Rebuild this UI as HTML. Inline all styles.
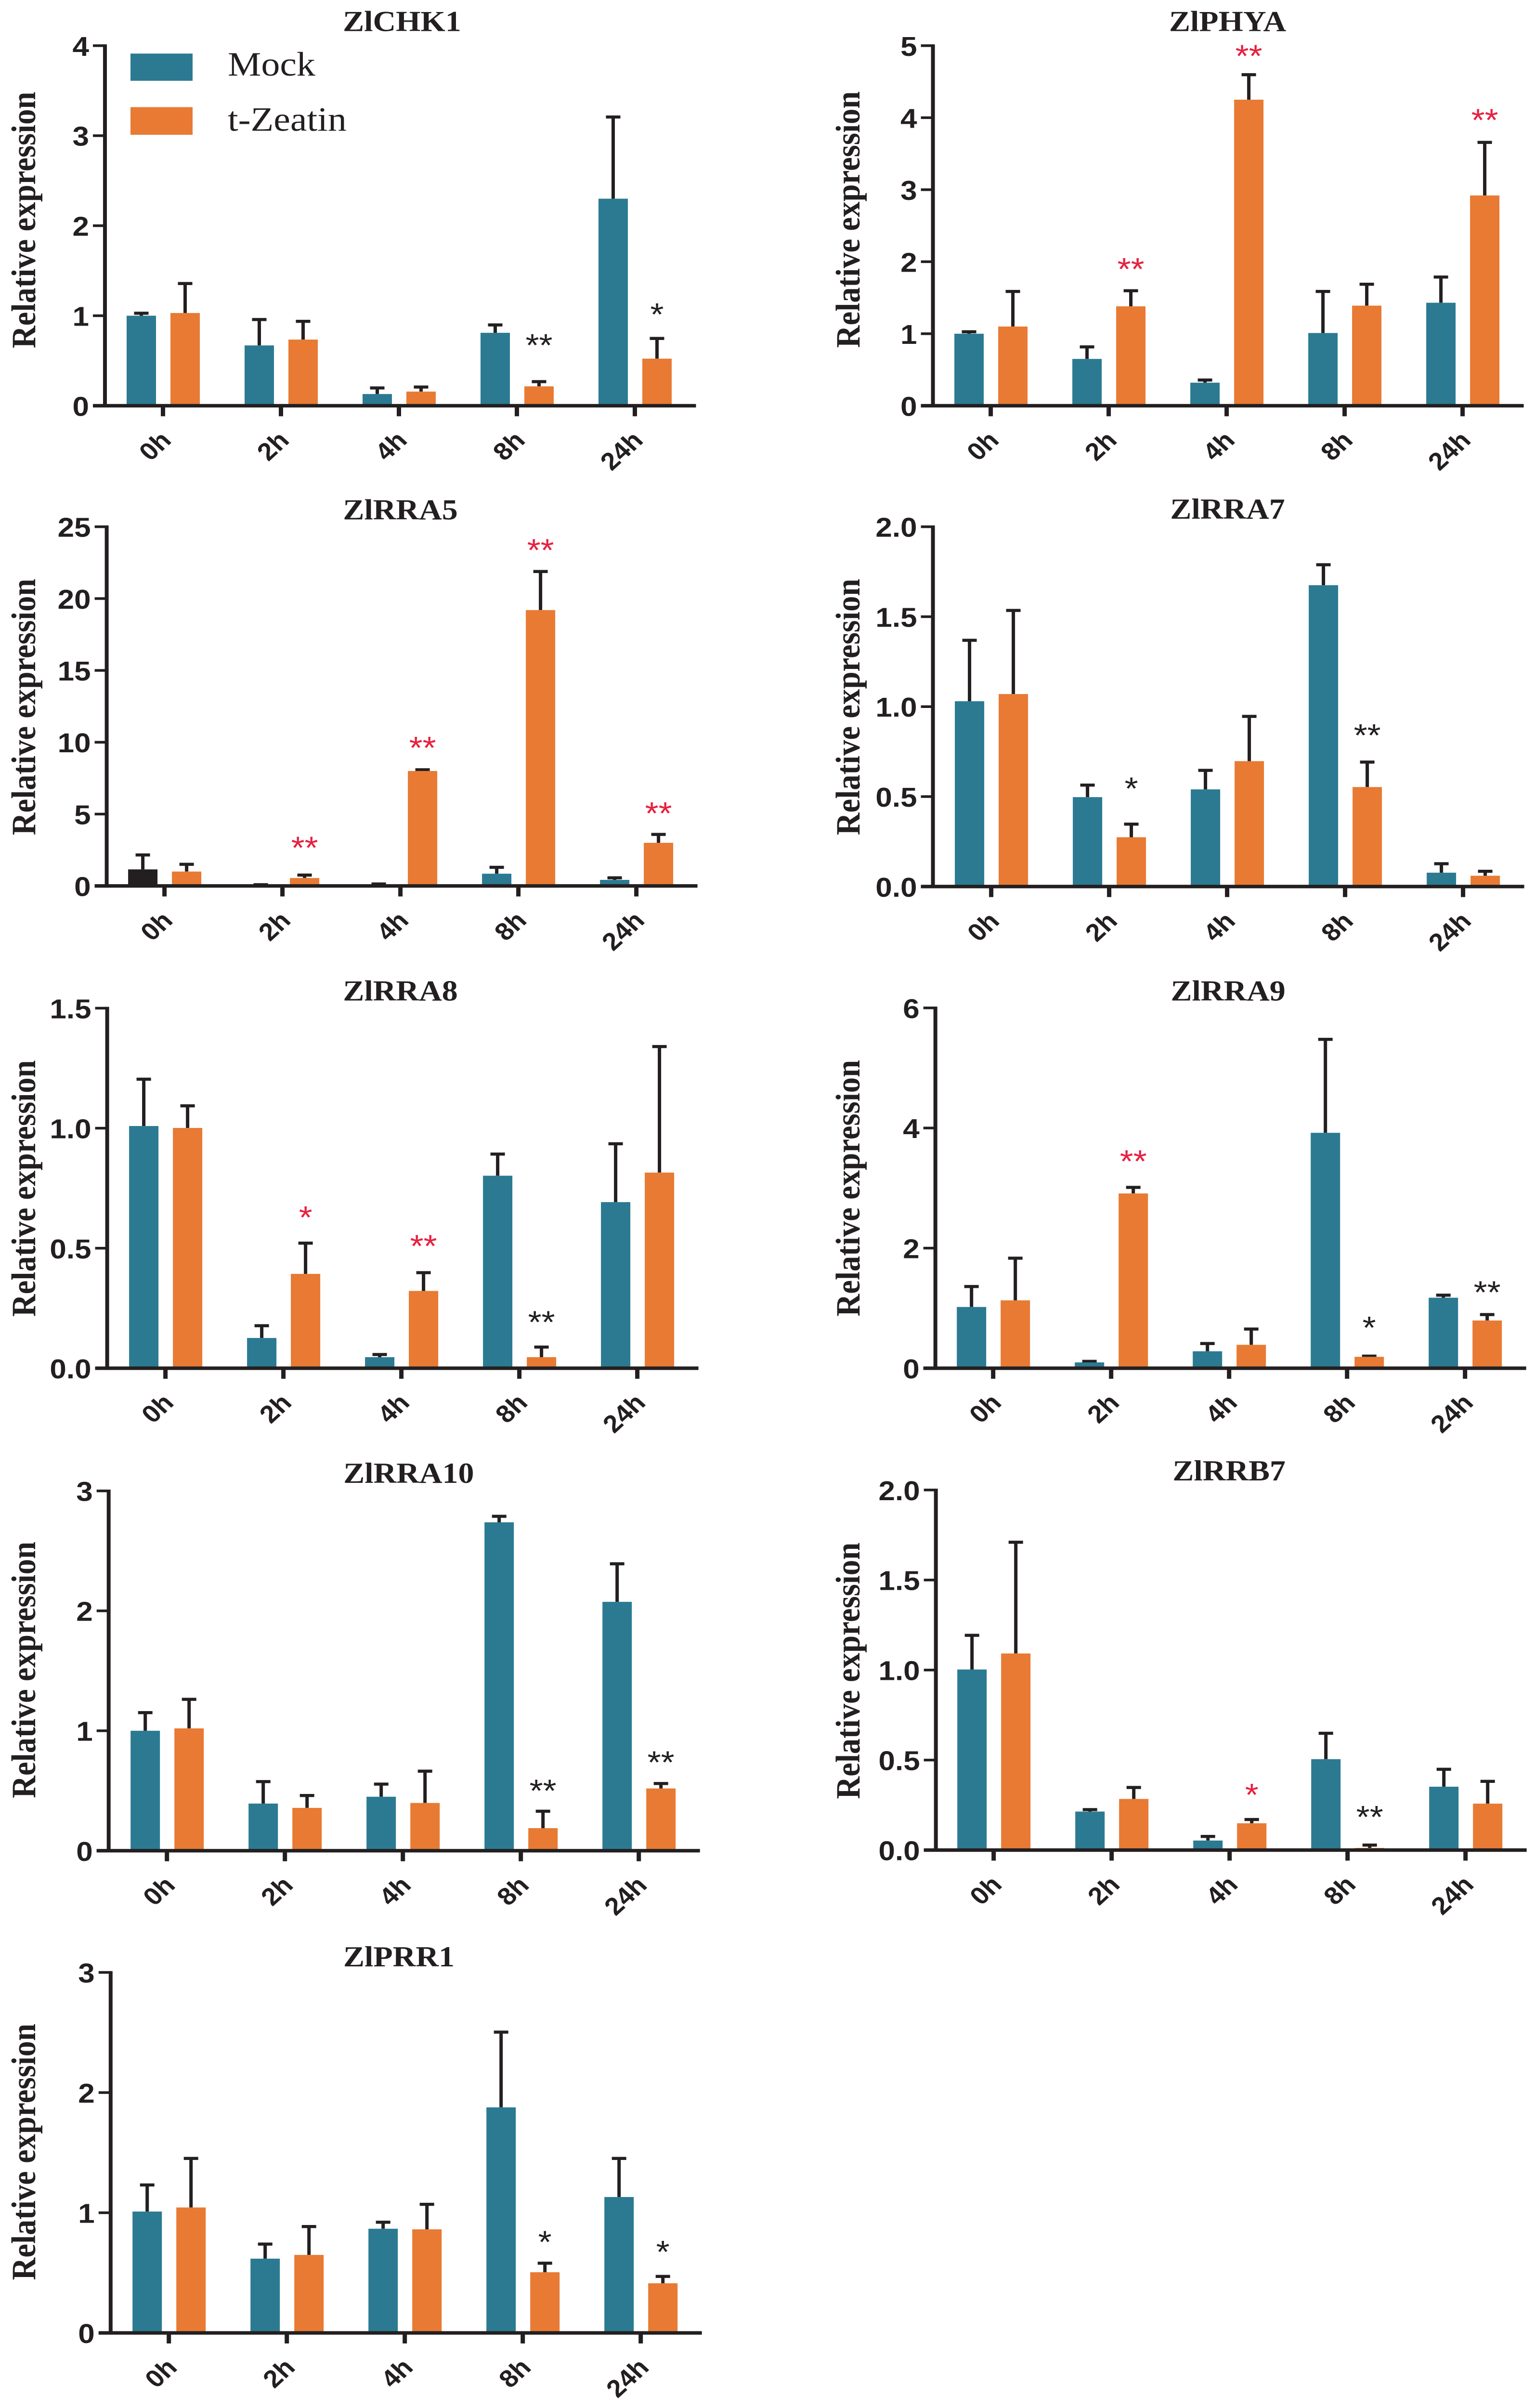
<!DOCTYPE html>
<html lang="en">
<head>
<meta charset="utf-8">
<title>Relative expression panels</title>
<style>
html,body{margin:0;padding:0;background:#fff;width:100%;height:100%;overflow:hidden;}
svg#figure{display:block;width:100vw;height:100vh;}
.serif{font-family:"Liberation Serif",serif;}
.sans{font-family:"Liberation Sans",sans-serif;}
</style>
</head>
<body>
<svg id="figure" xmlns="http://www.w3.org/2000/svg" viewBox="0 0 3188 5484" preserveAspectRatio="none">
  <rect width="3188" height="5484" fill="#ffffff"/>
  <g>
    <rect x="271" y="122" width="129" height="62" fill="#2b7a92"/>
    <text class="serif" x="473" y="172" font-size="78" fill="#231f20">Mock</text>
    <rect x="271" y="244" width="129" height="63" fill="#e87a33"/>
    <text class="serif" x="473" y="298" font-size="78" fill="#231f20">t-Zeatin</text>
  </g>
</svg>
<script>
const categories = ["0h", "2h", "4h", "8h", "24h"];

const chk1Ticks = ["0", "1", "2", "3", "4"];
const chk1Mock = [1.0, 0.67, 0.13, 0.81, 2.30];
const chk1MockErr = [0.03, 0.29, 0.07, 0.09, 0.91];
const chk1Zeatin = [1.03, 0.735, 0.157, 0.215, 0.523];
const chk1ZeatinErr = [0.33, 0.205, 0.053, 0.055, 0.227];
const chk1Sig = ["", "", "", "**", "*"];
const chk1SigLevel = [0, 0, 0, 0.755, 1.097];
const chk1SigTone = ["", "", "", "k", "k"];

const phyaTicks = ["0", "1", "2", "3", "4", "5"];
const phyaMock = [1.0, 0.65, 0.32, 1.01, 1.43];
const phyaMockErr = [0.03, 0.17, 0.04, 0.58, 0.36];
const phyaZeatin = [1.10, 1.38, 4.25, 1.39, 2.92];
const phyaZeatinErr = [0.49, 0.22, 0.35, 0.30, 0.74];
const phyaSig = ["", "**", "**", "", "**"];
const phyaSigLevel = [0, 2.0, 4.96, 0, 4.07];
const phyaSigTone = ["", "r", "r", "", "r"];

const rra5Ticks = ["0", "5", "10", "15", "20", "25"];
const rra5Mock = [1.15, 0.05, 0.1, 0.85, 0.42];
const rra5MockErr = [1.02, 0.05, 0.05, 0.46, 0.16];
const rra5Zeatin = [1.0, 0.55, 8.0, 19.2, 3.0];
const rra5ZeatinErr = [0.52, 0.22, 0.1, 2.7, 0.6];
const rra5Sig = ["", "**", "**", "**", "**"];
const rra5SigLevel = [0, 3.17, 10.14, 23.9, 5.57];
const rra5SigTone = ["", "r", "r", "r", "r"];

const rra7Ticks = ["0.0", "0.5", "1.0", "1.5", "2.0"];
const rra7Mock = [1.03, 0.497, 0.54, 1.675, 0.077];
const rra7MockErr = [0.34, 0.068, 0.107, 0.115, 0.051];
const rra7Zeatin = [1.07, 0.274, 0.697, 0.553, 0.06];
const rra7ZeatinErr = [0.466, 0.074, 0.25, 0.14, 0.026];
const rra7Sig = ["", "*", "", "**", ""];
const rra7SigLevel = [0, 0.586, 0, 0.882, 0];
const rra7SigTone = ["", "k", "", "k", ""];

const rra8Ticks = ["0.0", "0.5", "1.0", "1.5"];
const rra8Mock = [1.009, 0.126, 0.046, 0.802, 0.692];
const rra8MockErr = [0.196, 0.052, 0.012, 0.091, 0.244];
const rra8Zeatin = [1.001, 0.393, 0.322, 0.046, 0.815];
const rra8ZeatinErr = [0.093, 0.129, 0.077, 0.043, 0.526];
const rra8Sig = ["", "*", "**", "**", ""];
const rra8SigLevel = [0, 0.66, 0.54, 0.223, 0];
const rra8SigTone = ["", "r", "r", "k", ""];

const rra9Ticks = ["0", "2", "4", "6"];
const rra9Mock = [1.02, 0.097, 0.282, 3.92, 1.174];
const rra9MockErr = [0.344, 0.021, 0.133, 1.56, 0.046];
const rra9Zeatin = [1.13, 2.91, 0.39, 0.19, 0.795];
const rra9ZeatinErr = [0.706, 0.105, 0.266, 0.015, 0.102];
const rra9Sig = ["", "**", "", "*", "**"];
const rra9SigLevel = [0, 3.57, 0, 0.8, 1.39];
const rra9SigTone = ["", "r", "", "k", "k"];

const rra10Ticks = ["0", "1", "2", "3"];
const rra10Mock = [1.0, 0.393, 0.45, 2.738, 2.075];
const rra10MockErr = [0.153, 0.185, 0.107, 0.052, 0.319];
const rra10Zeatin = [1.02, 0.357, 0.398, 0.188, 0.519];
const rra10ZeatinErr = [0.244, 0.105, 0.267, 0.143, 0.043];
const rra10Sig = ["", "", "", "**", "**"];
const rra10SigLevel = [0, 0, 0, 0.563, 0.8];
const rra10SigTone = ["", "", "", "k", "k"];

const rrb7Ticks = ["0.0", "0.5", "1.0", "1.5", "2.0"];
const rrb7Mock = [1.003, 0.214, 0.053, 0.505, 0.352];
const rrb7MockErr = [0.191, 0.012, 0.024, 0.145, 0.098];
const rrb7Zeatin = [1.092, 0.284, 0.149, 0.012, 0.258];
const rrb7ZeatinErr = [0.619, 0.065, 0.022, 0.017, 0.125];
const rrb7Sig = ["", "", "*", "**", ""];
const rrb7SigLevel = [0, 0, 0.349, 0.226, 0];
const rrb7SigTone = ["", "", "r", "k", ""];

const prr1Ticks = ["0", "1", "2", "3"];
const prr1Mock = [1.01, 0.618, 0.867, 1.877, 1.131];
const prr1MockErr = [0.223, 0.123, 0.056, 0.628, 0.323];
const prr1Zeatin = [1.044, 0.649, 0.862, 0.505, 0.413];
const prr1ZeatinErr = [0.41, 0.238, 0.21, 0.077, 0.059];
const prr1Sig = ["", "", "", "*", "*"];
const prr1SigLevel = [0, 0, 0, 0.82, 0.736];
const prr1SigTone = ["", "", "", "k", "k"];

const SVG_NS = "http://www.w3.org/2000/svg";
const INK = "#231f20";
const TEAL = "#2b7a92";
const ORANGE = "#e87a33";
const RED = "#e8203f";
const figure = document.getElementById("figure");

function make(parent, tag, props, text) {
  const el = document.createElementNS(SVG_NS, tag);
  for (const k in props) el.setAttribute(k, props[k]);
  if (text !== undefined) el.textContent = text;
  parent.appendChild(el);
  return el;
}

function drawPanel(p) {
  const slug = p.title.toLowerCase();
  const yMax = parseFloat(p.ticks[p.ticks.length - 1]);
  const yScale = function (v) { return p.base - (v / yMax) * (p.base - p.top); };
  const xScale = function (i) { return p.tick0 + i * 245; };

  const g = make(figure, "g", {});
  
  

  const title = make(g, "text", { "class": "serif", x: p.titleX, y: p.titleY, "font-size": 66, "font-weight": "bold", "text-anchor": "middle", fill: INK }, p.title);
  
  

  const yTitle = make(g, "text", { "class": "serif", transform: "translate(" + p.labelX + "," + p.labelCy + ") rotate(-90)", "font-size": 71, "font-weight": "bold", "text-anchor": "middle", fill: INK }, "Relative expression");
  
  

  // bars and error bars
  categories.forEach(function (cat, i) {
    const cx = xScale(i);
    [[p.mock, p.mockErr, -45, TEAL, 'mock'], [p.zeatin, p.zeatinErr, 46, ORANGE, 't-zeatin']].forEach(function (s) {
      const c = cx + s[2];
      const v = s[0][i];
      const topV = v + s[1][i];
      const fill = (s[4] === 'mock' && p.darkFirst && i === 0) ? INK : s[3];
      const stem = make(g, "rect", { x: c - 3.5, y: yScale(topV), width: 7, height: Math.max(0, yScale(v) - yScale(topV)), fill: INK });
      
      
      const cap = make(g, "rect", { x: c - 15, y: yScale(topV) - 3, width: 30, height: 7, fill: INK });
      
      
      const bar = make(g, "rect", { x: c - 30.5, y: yScale(v), width: 61, height: Math.max(0, p.base - yScale(v)), fill: fill });
      
      
    });

    if (p.sig[i]) {
      const star = make(g, "text", { "class": "sans", x: cx + 46, y: yScale(p.sigLevel[i]) + 42, "font-size": 72, "text-anchor": "middle", fill: p.sigTone[i] === "r" ? RED : INK }, p.sig[i]);
      
      
    }

    const tick = make(g, "rect", { x: cx - 4.5, y: p.base, width: 9, height: 24, fill: INK });
    
    

    const xLabel = make(g, "text", { "class": "sans", transform: "translate(" + (cx + 20) + "," + (p.base + 82) + ") rotate(-45)", "font-size": 56, "font-weight": "bold", "text-anchor": "end", fill: INK }, cat);
    
    
  });

  // axes
  const yAxis = make(g, "rect", { x: p.axisX - 4, y: p.top - 3, width: 8, height: p.base - p.top + 3, fill: INK });
  
  
  const xAxis = make(g, "rect", { x: p.axisX - 25, y: p.base - 4, width: p.tick0 + 980 + 127 - p.axisX + 25, height: 8, fill: INK });
  
  

  p.ticks.forEach(function (label) {
    const y = yScale(parseFloat(label));
    const t = make(g, "rect", { x: p.axisX - 25, y: y - 3, width: 25, height: 6, fill: INK });
    
    
    const yLabel = make(g, "text", { "class": "sans", x: p.axisX - 33, y: y + 23, "font-size": 62, "font-weight": "bold", "text-anchor": "end", fill: INK }, label);
    
    
  });
}

drawPanel({ title: "ZlCHK1", ticks: chk1Ticks, mock: chk1Mock, mockErr: chk1MockErr, zeatin: chk1Zeatin, zeatinErr: chk1ZeatinErr, sig: chk1Sig, sigLevel: chk1SigLevel, sigTone: chk1SigTone, axisX: 218, tick0: 338.5, top: 104, base: 924, titleX: 835, titleY: 71, labelX: 73, labelCy: 501 });
drawPanel({ title: "ZlPHYA", ticks: phyaTicks, mock: phyaMock, mockErr: phyaMockErr, zeatin: phyaZeatin, zeatinErr: phyaZeatinErr, sig: phyaSig, sigLevel: phyaSigLevel, sigTone: phyaSigTone, axisX: 1937.6, tick0: 2057.6, top: 104, base: 924, titleX: 2549.6, titleY: 71, labelX: 1785, labelCy: 500 });
drawPanel({ title: "ZlRRA5", ticks: rra5Ticks, mock: rra5Mock, mockErr: rra5MockErr, zeatin: rra5Zeatin, zeatinErr: rra5ZeatinErr, sig: rra5Sig, sigLevel: rra5SigLevel, sigTone: rra5SigTone, axisX: 221.6, tick0: 341.6, top: 1199.6, base: 2017.6, titleX: 831.6, titleY: 1183, labelX: 73, labelCy: 1610, darkFirst: true });
drawPanel({ title: "ZlRRA7", ticks: rra7Ticks, mock: rra7Mock, mockErr: rra7MockErr, zeatin: rra7Zeatin, zeatinErr: rra7ZeatinErr, sig: rra7Sig, sigLevel: rra7SigLevel, sigTone: rra7SigTone, axisX: 1937.6, tick0: 2058.6, top: 1199.6, base: 2019, titleX: 2549.6, titleY: 1181, labelX: 1785, labelCy: 1610 });
drawPanel({ title: "ZlRRA8", ticks: rra8Ticks, mock: rra8Mock, mockErr: rra8MockErr, zeatin: rra8Zeatin, zeatinErr: rra8ZeatinErr, sig: rra8Sig, sigLevel: rra8SigLevel, sigTone: rra8SigTone, axisX: 222.6, tick0: 343.6, top: 2296, base: 3116, titleX: 831.6, titleY: 2278.5, labelX: 73, labelCy: 2706.6 });
drawPanel({ title: "ZlRRA9", ticks: rra9Ticks, mock: rra9Mock, mockErr: rra9MockErr, zeatin: rra9Zeatin, zeatinErr: rra9ZeatinErr, sig: rra9Sig, sigLevel: rra9SigLevel, sigTone: rra9SigTone, axisX: 1942.7, tick0: 2062.7, top: 2295.4, base: 3116, titleX: 2550.6, titleY: 2278.5, labelX: 1785, labelCy: 2706 });
drawPanel({ title: "ZlRRA10", ticks: rra10Ticks, mock: rra10Mock, mockErr: rra10MockErr, zeatin: rra10Zeatin, zeatinErr: rra10ZeatinErr, sig: rra10Sig, sigLevel: rra10SigLevel, sigTone: rra10SigTone, axisX: 225.7, tick0: 346.7, top: 3395.4, base: 4214.8, titleX: 848.9, titleY: 3377, labelX: 73, labelCy: 3803 });
drawPanel({ title: "ZlRRB7", ticks: rrb7Ticks, mock: rrb7Mock, mockErr: rrb7MockErr, zeatin: rrb7Zeatin, zeatinErr: rrb7ZeatinErr, sig: rrb7Sig, sigLevel: rrb7SigLevel, sigTone: rrb7SigTone, axisX: 1943.7, tick0: 2063.7, top: 3393.3, base: 4213.4, titleX: 2552.7, titleY: 3371.5, labelX: 1785, labelCy: 3805 });
drawPanel({ title: "ZlPRR1", ticks: prr1Ticks, mock: prr1Mock, mockErr: prr1MockErr, zeatin: prr1Zeatin, zeatinErr: prr1ZeatinErr, sig: prr1Sig, sigLevel: prr1SigLevel, sigTone: prr1SigTone, axisX: 229.8, tick0: 350.7, top: 4492, base: 5313, titleX: 828.5, titleY: 4478, labelX: 73, labelCy: 4900.7 });
</script>
</body>
</html>
